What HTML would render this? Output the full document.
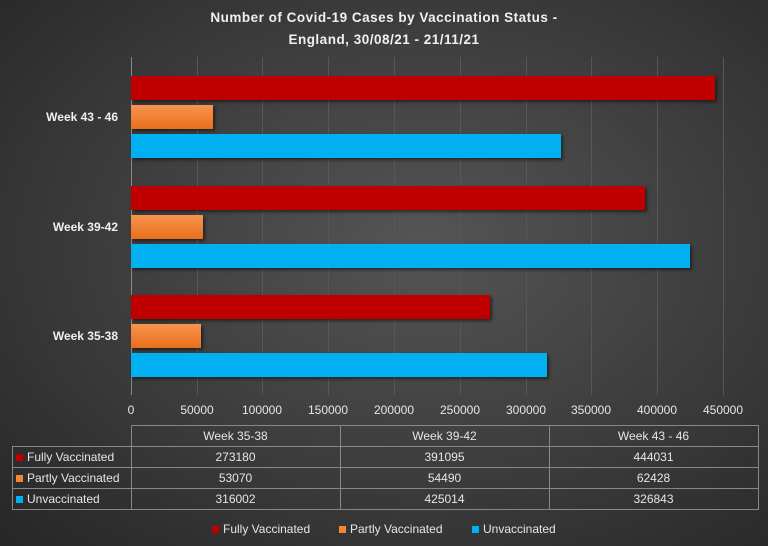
<!DOCTYPE html>
<html><head><style>
body{margin:0;}
#c{position:relative;width:768px;height:546px;overflow:hidden;background:radial-gradient(ellipse at 55% 45%,#555 0%,#3e3e3e 50%,#262626 100%);font-family:"Liberation Sans",sans-serif;color:#e6e6e6;}
.t{position:absolute;left:0;width:768px;text-align:center;font-weight:bold;font-size:13.5px;color:#f0f0f0;letter-spacing:0.5px}
.g{position:absolute;top:57px;height:338px;width:1px;background:#575757}
.b{position:absolute;height:24px;box-shadow:2px 2px 3px rgba(0,0,0,.5)}
.r{background:#c00000}.o{background:linear-gradient(#f89450,#e86f1a)}.u{background:#00b0f0}
.cl{position:absolute;right:650px;font-weight:bold;font-size:12px;color:#f0f0f0;text-align:right;white-space:nowrap}
.tk{position:absolute;top:403px;font-size:12px;width:70px;margin-left:-35px;text-align:center}
table{position:absolute;left:12px;top:425px;border-collapse:collapse;font-size:12px}
td{border:1px solid #888;height:20px;padding:0;text-align:center;color:#e6e6e6}
td.h{text-align:left;padding-left:3px}
.sq{display:inline-block;width:7px;height:7px;margin-right:4px}
.lg{position:absolute;top:522px;font-size:12px}
</style></head><body><div id="c">
<div class="t" style="top:10px">Number of Covid-19 Cases by Vaccination Status -</div>
<div class="t" style="top:32px">England, 30/08/21 - 21/11/21</div>
<div class="g" style="left:131px;background:#888"></div>
<div class="g" style="left:197px"></div><div class="g" style="left:262px"></div><div class="g" style="left:328px"></div><div class="g" style="left:394px"></div><div class="g" style="left:460px"></div><div class="g" style="left:526px"></div><div class="g" style="left:591px"></div><div class="g" style="left:657px"></div><div class="g" style="left:723px"></div>
<div class="b r" style="left:131px;top:76px;width:584px"></div>
<div class="b o" style="left:131px;top:105px;width:82px"></div>
<div class="b u" style="left:131px;top:134px;width:430px"></div>
<div class="b r" style="left:131px;top:186px;width:514px"></div>
<div class="b o" style="left:131px;top:215px;width:72px"></div>
<div class="b u" style="left:131px;top:244px;width:559px"></div>
<div class="b r" style="left:131px;top:295px;width:359px"></div>
<div class="b o" style="left:131px;top:324px;width:70px"></div>
<div class="b u" style="left:131px;top:353px;width:416px"></div>
<div class="cl" style="top:110px">Week 43 - 46</div>
<div class="cl" style="top:220px">Week 39-42</div>
<div class="cl" style="top:329px">Week 35-38</div>
<div class="tk" style="left:131px">0</div><div class="tk" style="left:197px">50000</div><div class="tk" style="left:262px">100000</div><div class="tk" style="left:328px">150000</div><div class="tk" style="left:394px">200000</div><div class="tk" style="left:460px">250000</div><div class="tk" style="left:526px">300000</div><div class="tk" style="left:591px">350000</div><div class="tk" style="left:657px">400000</div><div class="tk" style="left:723px">450000</div>
<table>
<tr><td style="width:118px;border-left:none;border-top:none"></td><td style="width:208px">Week 35-38</td><td style="width:208px">Week 39-42</td><td style="width:208px">Week 43 - 46</td></tr>
<tr><td class="h"><span class="sq" style="background:#c00000"></span>Fully Vaccinated</td><td>273180</td><td>391095</td><td>444031</td></tr>
<tr><td class="h"><span class="sq" style="background:#f4863a"></span>Partly Vaccinated</td><td>53070</td><td>54490</td><td>62428</td></tr>
<tr><td class="h"><span class="sq" style="background:#00b0f0"></span>Unvaccinated</td><td>316002</td><td>425014</td><td>326843</td></tr>
</table>
<div class="lg" style="left:212px"><span class="sq" style="background:#c00000"></span>Fully Vaccinated</div>
<div class="lg" style="left:339px"><span class="sq" style="background:#f4863a"></span>Partly Vaccinated</div>
<div class="lg" style="left:472px"><span class="sq" style="background:#00b0f0"></span>Unvaccinated</div>
</div></body></html>
